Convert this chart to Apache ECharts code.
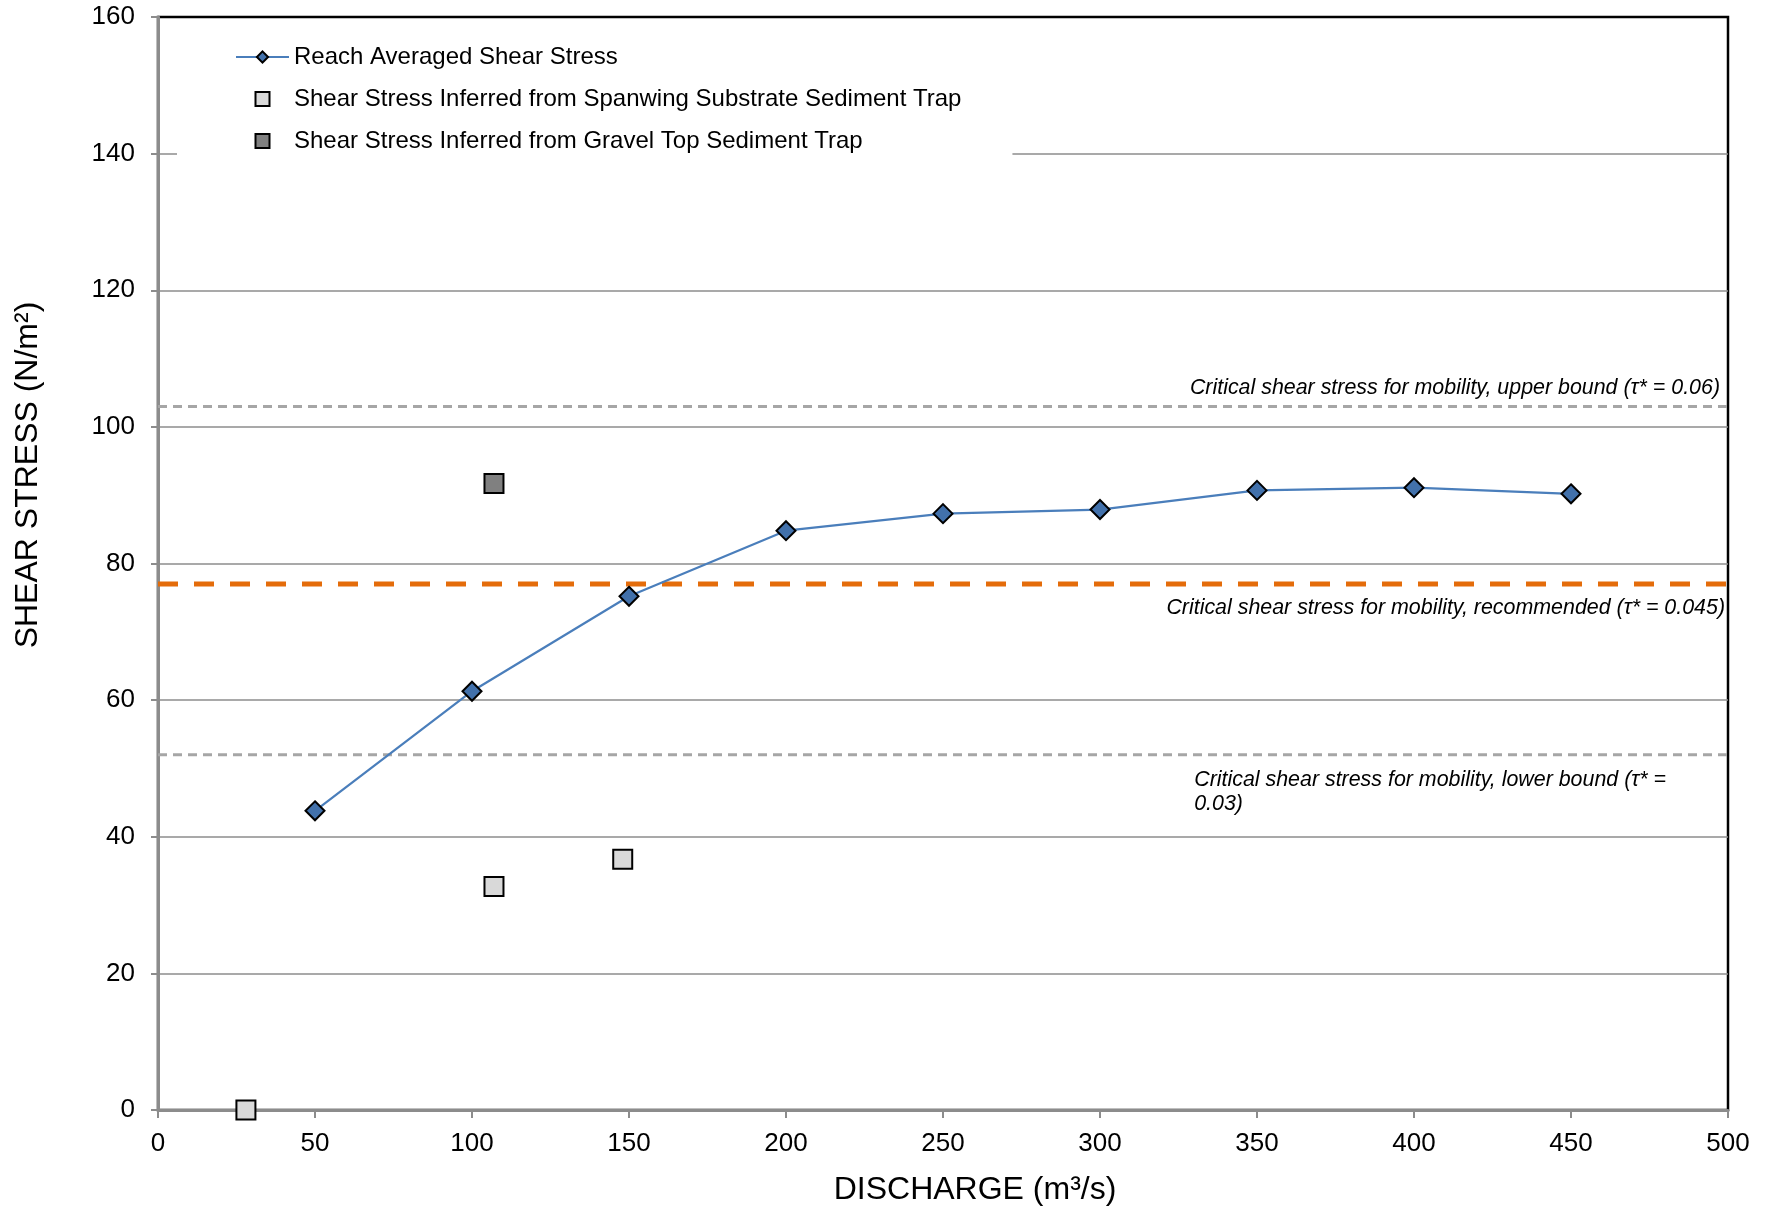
<!DOCTYPE html>
<html><head><meta charset="utf-8">
<script src="https://cdn.jsdelivr.net/npm/echarts@6/dist/echarts.min.js"></script>
<style>html,body{margin:0;padding:0;background:#fff}#c{width:1771px;height:1209px}</style>
</head><body><div id="c"></div>
<script>
// ---- data ----
const discharge = [50, 100, 150, 200, 250, 300, 350, 400, 450];
const reachShear = [43.8, 61.3, 75.2, 84.8, 87.3, 87.9, 90.7, 91.1, 90.2];
const spawnX = [28, 107, 148];
const spawnY = [0, 32.7, 36.7];
const gravelX = [107];
const gravelY = [91.7];
const critUpper = 103;
const critRec = 77;
const critLower = 52;
const xRange = [0, 500];
const yRange = [0, 160];
const seriesNames = ['Reach Averaged Shear Stress', 'Shear Stress Inferred from Spanwing Substrate Sediment Trap', 'Shear Stress Inferred from Gravel Top Sediment Trap'];
const annUpper = 'Critical shear stress for mobility, upper bound (\u03C4* = 0.06)';
const annRec = 'Critical shear stress for mobility, recommended (\u03C4* = 0.045)';
const annLower = 'Critical shear stress for mobility, lower bound (\u03C4* =\n0.03)';

const FONT = "'Liberation Sans', Arial, sans-serif";
const chart = echarts.init(document.getElementById('c'));
const zip = (a, b) => a.map((v, i) => [v, b[i]]);
const SQ = 'path://M0,0H10V10H0Z';

const option = {
  animation: false,
  backgroundColor: '#fff',
  grid: { left: 158, right: 43, top: 17, bottom: 99, show: true, borderColor: '#000', borderWidth: 2.5, backgroundColor: 'transparent' },
  legend: {
    orient: 'vertical', left: 177, top: 26,
    padding: [19, 51, 15, 58], backgroundColor: '#fff',
    itemWidth: 53, itemHeight: 14, itemGap: 18,
    textStyle: { fontFamily: FONT, fontSize: 24, color: '#000' },
    data: [
      { name: seriesNames[0] },
      { name: seriesNames[1], icon: SQ },
      { name: seriesNames[2], icon: SQ }
    ]
  },
  xAxis: {
    type: 'value', min: xRange[0], max: xRange[1], interval: 50,
    axisLine: { show: true, onZero: false, lineStyle: { color: '#8c8c8c', width: 3 } },
    axisTick: { show: true, length: 8, lineStyle: { color: '#8c8c8c', width: 2 } },
    axisLabel: { fontFamily: FONT, fontSize: 26, color: '#000', margin: 21 },
    splitLine: { show: false }
  },
  yAxis: {
    type: 'value', min: yRange[0], max: yRange[1], interval: 20,
    axisLine: { show: true, lineStyle: { color: '#8c8c8c', width: 3 } },
    axisTick: { show: true, length: 7, lineStyle: { color: '#8c8c8c', width: 2 } },
    axisLabel: { fontFamily: FONT, fontSize: 26, color: '#000', margin: 23 },
    splitLine: { show: true, showMaxLine: false, showMinLine: false, lineStyle: { color: '#8c8c8c', width: 1.5 } }
  },
  series: [
    { name: 'upper', type: 'line', data: [[xRange[0], critUpper], [xRange[1], critUpper]], symbol: 'none', silent: true, z: 1,
      lineStyle: { color: '#a6a6a6', width: 3, type: [9, 6] } },
    { name: 'rec', type: 'line', data: [[xRange[0], critRec], [xRange[1], critRec]], symbol: 'none', silent: true, z: 1,
      lineStyle: { color: '#e46c0a', width: 5, type: [20, 16] } },
    { name: 'lower', type: 'line', data: [[xRange[0], critLower], [xRange[1], critLower]], symbol: 'none', silent: true, z: 1,
      lineStyle: { color: '#a6a6a6', width: 3, type: [9, 6] } },
    { name: seriesNames[0], type: 'line', data: zip(discharge, reachShear), z: 3,
      symbol: 'diamond', symbolSize: 19,
      lineStyle: { color: '#4a7ebb', width: 2.2 },
      itemStyle: { color: '#4271ab', borderColor: '#000', borderWidth: 2 } },
    { name: seriesNames[1], type: 'scatter', data: zip(spawnX, spawnY), z: 4,
      symbol: 'rect', symbolSize: 19,
      itemStyle: { color: '#d9d9d9', borderColor: '#000', borderWidth: 2, opacity: 1 } },
    { name: seriesNames[2], type: 'scatter', data: zip(gravelX, gravelY), z: 4,
      symbol: 'rect', symbolSize: 19,
      itemStyle: { color: '#808080', borderColor: '#000', borderWidth: 2, opacity: 1 } }
  ]
};
chart.setOption(option);

const px = (x, y) => chart.convertToPixel({ xAxisIndex: 0, yAxisIndex: 0 }, [x, y]);
const pU = px(xRange[1], critUpper);
const pR = px(xRange[1], critRec);
const pL = px(330, critLower);
const ann = { fontFamily: FONT, fontSize: 21.4, fontStyle: 'italic', fill: '#000' };
chart.setOption({
  graphic: [
    { type: 'text', x: pU[0] - 8, y: pU[1] - 18, style: Object.assign({ text: annUpper, align: 'right', verticalAlign: 'middle' }, ann) },
    { type: 'text', x: pR[0] - 3, y: pR[1] + 24, style: Object.assign({ text: annRec, align: 'right', verticalAlign: 'middle' }, ann) },
    { type: 'text', x: pL[0], y: pL[1] + 13, style: Object.assign({ text: annLower, align: 'left', verticalAlign: 'top', lineHeight: 24 }, ann) },
    { type: 'text', x: 975, y: 1190, style: { text: 'DISCHARGE (m\u00B3/s)', fontFamily: FONT, fontSize: 32, fill: '#000', align: 'center', verticalAlign: 'middle' } },
    { type: 'text', x: 28, y: 475, rotation: Math.PI / 2, style: { text: 'SHEAR STRESS (N/m\u00B2)', fontFamily: FONT, fontSize: 32, fill: '#000', align: 'center', verticalAlign: 'middle' } }
  ]
});
</script></body></html>
